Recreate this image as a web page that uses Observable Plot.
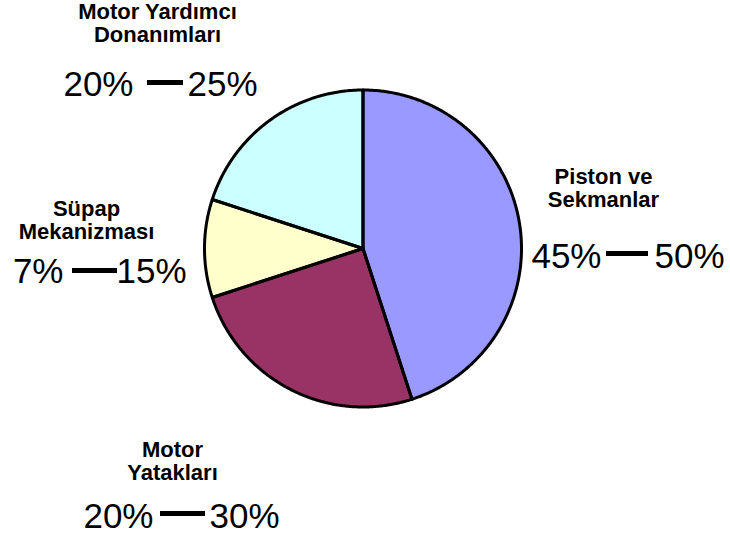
<!DOCTYPE html>
<html>
<head>
<meta charset="utf-8">
<script src="https://cdn.jsdelivr.net/npm/d3@7"></script>
<script src="https://cdn.jsdelivr.net/npm/@observablehq/plot@0.6"></script>
<style>
  html, body { margin: 0; padding: 0; background: #ffffff; }
</style>
</head>
<body>
<div id="chart"></div>
<script>
// Engine wear share by component group (clockwise from 12 o'clock)
const categories = ["Piston ve\nSekmanlar", "Motor\nYatakları", "Süpap\nMekanizması", "Motor Yardımcı\nDonanımları"];
const shares = [45, 25, 10, 20];
const rangeLow = ["45%", "20%", "7%", "20%"];
const rangeHigh = ["50%", "30%", "15%", "25%"];
const sliceColors = ["#9999ff", "#993366", "#ffffcc", "#ccffff"];

// Layout (chart units = pixels)
const pie = {cx: 362.5, cy: 248, r: 158.5};
const labelLayout = [
  {x: 603, top: 167, lowEnd: 601, d0: 606, d1: 648, highStart: 654, base: 267, dashY: 253},
  {x: 172, top: 440, lowEnd: 153, d0: 160, d1: 205, highStart: 209, base: 527, dashY: 513},
  {x: 86,  top: 199, lowEnd: 63,  d0: 72,  d1: 117, highStart: 116, base: 282, dashY: 270},
  {x: 157, top: 2,   lowEnd: 133, d0: 147, d1: 183, highStart: 187, base: 95,  dashY: 82}
];

const labelRows = categories.map((name, i) => ({
  name, low: rangeLow[i], high: rangeHigh[i], ...labelLayout[i]
}));

// Wedge outlines from d3.pie angles
const arcs = d3.pie().sort(null)(shares);
const wedgePoints = arcs.flatMap((a, i) => {
  const name = categories[i];
  const span = a.endAngle - a.startAngle;
  const steps = Math.max(2, Math.ceil(span / (Math.PI / 360)));
  const pts = [{name, x: pie.cx, y: pie.cy}];
  for (let k = 0; k <= steps; k++) {
    const t = a.startAngle + span * k / steps;
    pts.push({name, x: pie.cx + pie.r * Math.sin(t), y: pie.cy - pie.r * Math.cos(t)});
  }
  pts.push({name, x: pie.cx, y: pie.cy});
  return pts;
});

const chart = Plot.plot({
  width: 730,
  height: 541,
  margin: 0,
  x: {domain: [0, 730], range: [0, 730], axis: null},
  y: {domain: [0, 541], range: [0, 541], axis: null},
  color: {domain: categories, range: sliceColors},
  style: {fontFamily: "'Liberation Sans', Arial, sans-serif", background: "#ffffff", color: "#000000"},
  marks: [
    Plot.line(wedgePoints, {x: "x", y: "y", z: "name", fill: "name", stroke: "none"}),
    Plot.line(wedgePoints, {x: "x", y: "y", z: "name", stroke: "#000000", strokeWidth: 3, strokeLinejoin: "round"}),
    Plot.text(labelRows, {
      x: "x", y: "top", text: "name", lineAnchor: "top", lineHeight: 1.05,
      fontSize: 22, fontWeight: "bold", fill: "#000000"
    }),
    Plot.text(labelRows, {
      x: "lowEnd", y: "base", text: "low", textAnchor: "end", lineAnchor: "bottom",
      fontSize: 35, fill: "#000000"
    }),
    Plot.text(labelRows, {
      x: "highStart", y: "base", text: "high", textAnchor: "start", lineAnchor: "bottom",
      fontSize: 35, fill: "#000000"
    }),
    Plot.ruleY(labelRows, {x1: "d0", x2: "d1", y: "dashY", stroke: "#000000", strokeWidth: 5})
  ]
});

document.getElementById("chart").appendChild(chart);
</script>
</body>
</html>
